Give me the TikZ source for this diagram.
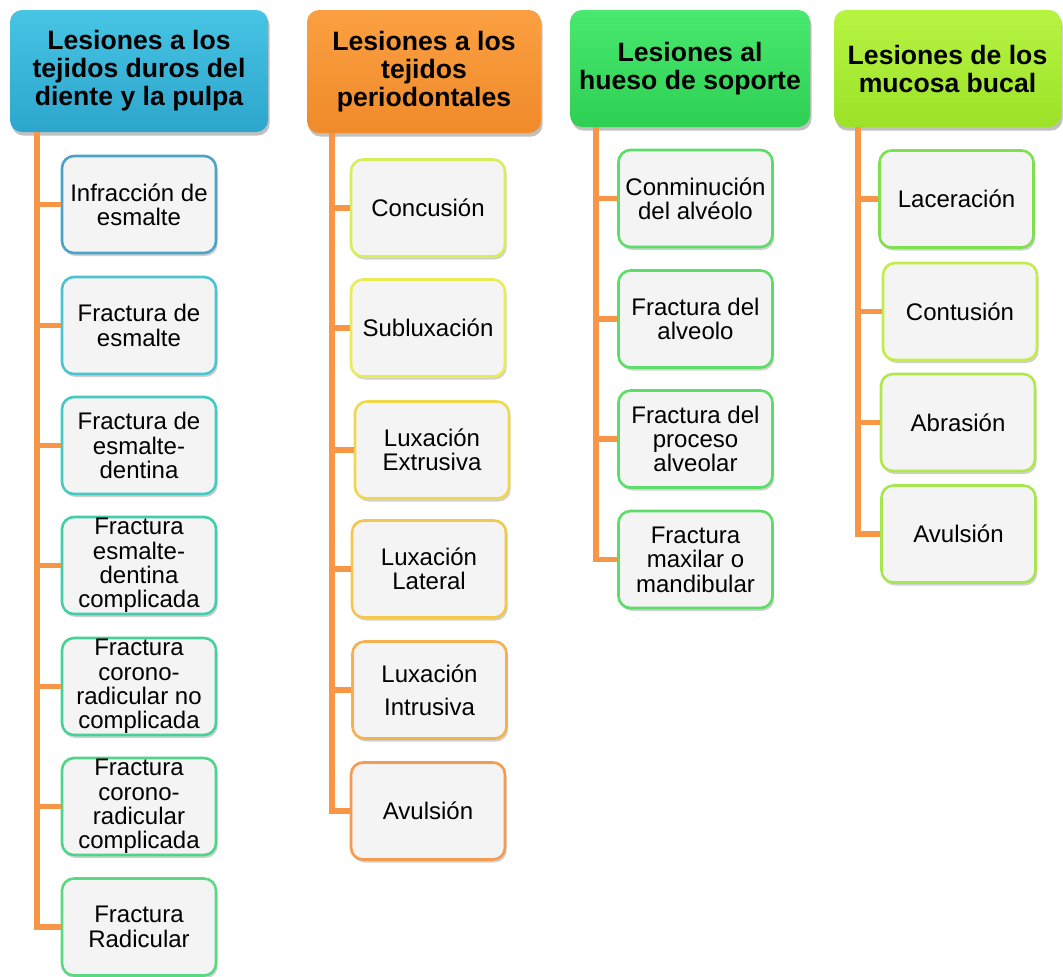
\documentclass[tikz,border=0pt]{standalone}
\usepackage{fontspec}
\setmainfont{Liberation Sans}
\usetikzlibrary{shadows}
\definecolor{rama}{HTML}{F79646}
\definecolor{relleno}{HTML}{F4F4F4}
% cabeceras
\definecolor{azulA}{RGB}{72,196,228}
\definecolor{azulB}{RGB}{44,166,204}
\definecolor{naranjaA}{RGB}{250,160,66}
\definecolor{naranjaB}{RGB}{240,138,42}
\definecolor{verdeA}{RGB}{72,233,110}
\definecolor{verdeB}{RGB}{46,208,84}
\definecolor{limaA}{RGB}{182,244,66}
\definecolor{limaB}{RGB}{156,226,40}
% bordes
\definecolor{bc1}{RGB}{75,163,199}
\definecolor{bc2}{RGB}{75,195,208}
\definecolor{bc3}{RGB}{69,201,195}
\definecolor{bc4}{RGB}{68,205,170}
\definecolor{bc5}{RGB}{71,209,154}
\definecolor{bc6}{RGB}{79,212,138}
\definecolor{bc7}{RGB}{90,217,130}
\definecolor{bp1}{RGB}{217,236,90}
\definecolor{bp2}{RGB}{232,236,85}
\definecolor{bp3}{RGB}{240,216,74}
\definecolor{bp4}{RGB}{243,198,76}
\definecolor{bp5}{RGB}{245,176,80}
\definecolor{bp6}{RGB}{245,155,80}
\definecolor{bo}{RGB}{94,220,106}
\definecolor{bm1}{RGB}{126,224,78}
\definecolor{bm2}{RGB}{196,236,74}
\definecolor{bm3}{RGB}{176,232,76}
\definecolor{bm4}{RGB}{166,230,78}

\begin{document}
\begin{tikzpicture}[x=0.5pt,y=-0.5pt,
  cabecera/.style={rounded corners=6pt, align=center, inner sep=0pt,
    font=\bfseries\fontsize{13.3}{14}\selectfont,
    drop shadow={shadow xshift=0.8pt, shadow yshift=-1.8pt, fill=black!45, opacity=0.55}},
  hoja/.style={draw=#1, line width=1.3pt, fill=relleno, rounded corners=6pt,
    minimum width=77pt, minimum height=48.5pt, inner sep=0pt, align=center,
    font=\fontsize{12}{12.2}\selectfont,
    drop shadow={shadow xshift=0.8pt, shadow yshift=-1.5pt, fill=black!40, opacity=0.45}},
  conector/.style={draw=rama, line width=2.6pt}]
\useasboundingbox (0,0) rectangle (1063,976);

%Cabeceras
\node (h1) at (139,71) [cabecera, minimum width=129pt, minimum height=61pt, top color=azulA, bottom color=azulB] {Lesiones a los\\tejidos duros del\\diente y la pulpa};
\node (h2) at (424,71.5) [cabecera, minimum width=117pt, minimum height=61.5pt, top color=naranjaA, bottom color=naranjaB] {Lesiones a los\\tejidos\\periodontales};
\node (h3) at (690,68.5) [cabecera, minimum width=120pt, minimum height=58.5pt, top color=verdeA, bottom color=verdeB] {Lesiones al\\hueso de soporte};
\node (h4) at (947.5,68.5) [cabecera, minimum width=113.5pt, minimum height=58.5pt, top color=limaA, bottom color=limaB] {Lesiones de los\\mucosa bucal};

%Troncos
\coordinate (t1) at (37,132);
\coordinate (t2) at (332,133);
\coordinate (t3) at (596,127);
\coordinate (t4) at (858,127);

%Columna 1
\node (c1) at (139,204.5) [hoja=bc1] {Infracción de\\esmalte};
\node (c2) at (139,325.5) [hoja=bc2] {Fractura de\\esmalte};
\node (c3) at (139,445.5) [hoja=bc3] {Fractura de\\esmalte-\\dentina};
\node (c4) at (139,565.5) [hoja=bc4] {Fractura\\esmalte-\\dentina\\complicada};
\node (c5) at (139,686.5) [hoja=bc5] {Fractura\\corono-\\radicular no\\complicada};
\node (c6) at (139,806.5) [hoja=bc6] {Fractura\\corono-\\radicular\\complicada};
\node (c7) at (139,927) [hoja=bc7] {Fractura\\Radicular};

%Columna 2
\node (p1) at (428,208) [hoja=bp1] {Concusión};
\node (p2) at (428,328) [hoja=bp2] {Subluxación};
\node (p3) at (432,450) [hoja=bp3] {Luxación\\Extrusiva};
\node (p4) at (429,569) [hoja=bp4] {Luxación\\Lateral};
\node (p5) at (429.5,690) [hoja=bp5] {Luxación\\[4.5pt]Intrusiva};
\node (p6) at (428,811) [hoja=bp6] {Avulsión};

%Columna 3
\node (o1) at (695.5,198.5) [hoja=bo] {Conminución\\del alvéolo};
\node (o2) at (695.5,319) [hoja=bo] {Fractura del\\alveolo};
\node (o3) at (695.5,439) [hoja=bo] {Fractura del\\proceso\\alveolar};
\node (o4) at (695.5,559.5) [hoja=bo] {Fractura\\maxilar o\\mandibular};

%Columna 4
\node (m1) at (956.5,199) [hoja=bm1] {Laceración};
\node (m2) at (960,311.5) [hoja=bm2] {Contusión};
\node (m3) at (958,422.5) [hoja=bm3] {Abrasión};
\node (m4) at (958.5,534) [hoja=bm4] {Avulsión};

%Conectores
\foreach \n in {c1,c2,c3,c4,c5,c6}
  \draw[conector] (t1 |- \n.west) -- (\n.west);
\draw[conector] (t1) |- (c7.west);
\foreach \n in {p1,p2,p3,p4,p5}
  \draw[conector] (t2 |- \n.west) -- (\n.west);
\draw[conector] (t2) |- (p6.west);
\foreach \n in {o1,o2,o3}
  \draw[conector] (t3 |- \n.west) -- (\n.west);
\draw[conector] (t3) |- (o4.west);
\foreach \n in {m1,m2,m3}
  \draw[conector] (t4 |- \n.west) -- (\n.west);
\draw[conector] (t4) |- (m4.west);

\end{tikzpicture}
\end{document}
